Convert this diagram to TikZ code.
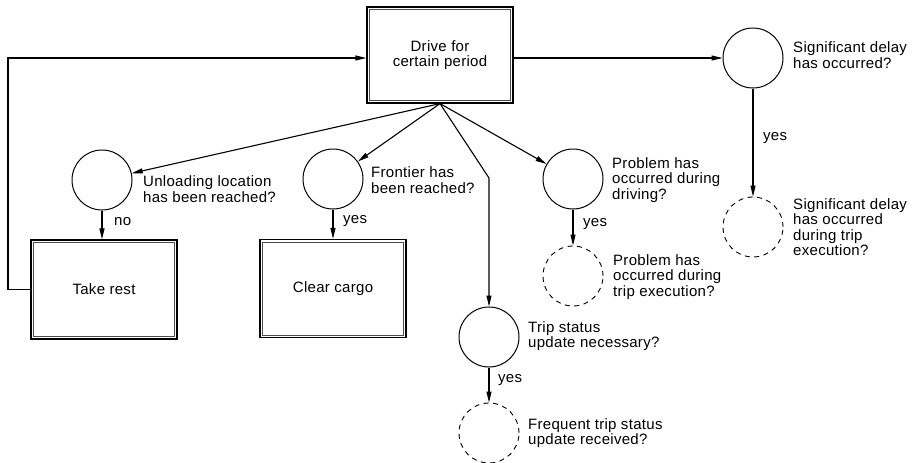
\documentclass[tikz,border=0pt]{standalone}
\usepackage{fontspec}
\setmainfont{Liberation Sans}[LetterSpace=2]
\usetikzlibrary{arrows.meta}
\begin{document}
\begin{tikzpicture}[x=1pt,y=-1pt,
  every node/.style={font=\fontsize{15}{15.5}\selectfont},
  task/.style={rectangle,draw,line width=1.2pt,minimum width=146pt,minimum height=96pt,align=center,
    path picture={\draw[line width=0.45pt,black!70]
      ([shift={(2.6pt,-2.6pt)}]path picture bounding box.north west) rectangle
      ([shift={(-2.6pt,2.6pt)}]path picture bounding box.south east);}},
  check/.style={circle,draw,line width=1pt,minimum size=60pt,inner sep=0pt},
  result/.style={circle,draw,line width=0.9pt,dash pattern=on 5pt off 4.5pt,minimum size=60pt,inner sep=0pt},
  note/.style={anchor=west,align=left,inner sep=0pt},
  flow/.style={line width=1.1pt,-{Triangle[length=11pt,width=5pt]}}]
\useasboundingbox (0,0) rectangle (918,463);

% action boxes
\node[task] (drive) at (440,55) {Drive for\\certain period};
\node[task,minimum height=99pt] (takerest) at (104,289.5) {Take rest};
\node[task,minimum height=98pt] (clear) at (333,288.5) {Clear cargo};

% decision points
\node[check] (unload) at (102,180) {};
\node[check] (frontier) at (333,179) {};
\node[check] (problem) at (573,179) {};
\node[check] (trip) at (489,337) {};
\node[check] (delay) at (753,58) {};

% resulting events
\node[result] (problemd) at (573,276) {};
\node[result] (tripd) at (489,433) {};
\node[result] (delayd) at (753,227) {};

% questions
\node[note] (tunload) at (143,189) {Unloading location\\has been reached?};
\node[note] (tfrontier) at (371,180) {Frontier has\\been reached?};
\node[note] (tproblem) at (612,180) {Problem has\\occurred during\\driving?};
\node[note] (tproblemd) at (613,277) {Problem has\\occurred during\\trip execution?};
\node[note] (ttrip) at (528,336) {Trip status\\update necessary?};
\node[note] (ttripd) at (528,433) {Frequent trip status\\update received?};
\node[note] (tdelay) at (793,55) {Significant delay\\has occurred?};
\node[note] (tdelayd) at (793,227) {Significant delay\\has occurred\\during trip\\execution?};

% branch labels
\node[note] (lno) at (114,222) {no};
\node[note] (lyes1) at (343,221) {yes};
\node[note] (lyes2) at (583,224) {yes};
\node[note] (lyes3) at (498,380) {yes};
\node[note] (lyes4) at (763,138) {yes};

% connectors
\coordinate (loop) at (8,58);
\coordinate (bend) at (489,178);
\draw[flow] (drive.south) -- (unload);
\draw[flow] (drive.south) -- (frontier);
\draw[flow] (drive.south) -- (problem);
\draw[flow] (drive.south) -- (bend) -- (trip.north);
\draw[flow] (drive.east |- delay) -- (delay);
\draw[flow] (takerest.west) -- (takerest.west -| loop) -- (loop) -- (loop -| drive.west);

\draw[flow] (unload.south) -- (unload.south |- takerest.north);
\draw[flow] (frontier.south) -- (frontier.south |- clear.north);
\draw[flow] (problem.south) -- (problemd.north);
\draw[flow] (trip.south) -- (tripd.north);
\draw[flow] (delay.south) -- (delayd.north);
\end{tikzpicture}
\end{document}
